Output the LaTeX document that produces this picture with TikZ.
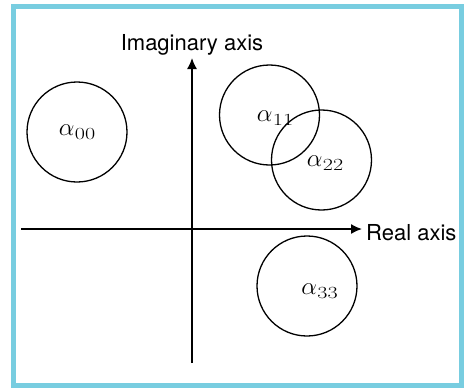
\documentclass[tikz,border=0pt]{standalone}
\usepackage{fontspec}
\usepackage{graphicx}
\newfontfamily\axisfont{TeX Gyre Heros}
\usetikzlibrary{arrows.meta}
\definecolor{frameblue}{RGB}{120,205,224}
\newcommand\alab[1]{{\fontsize{24}{24}\selectfont$\alpha$}\kern0.5pt\raisebox{-4pt}{\fontsize{17}{17}\selectfont\scalebox{1.3}[1]{#1}}}
\tikzset{
  ring/.style={circle, draw, line width=1.3pt, minimum size=100pt, inner sep=0pt},
  axisline/.style={line width=1.5pt, -{Latex[length=11pt,width=10pt]}},
  axislab/.style={inner sep=0pt, font=\axisfont\fontsize{22}{26}\selectfont},
  lab/.style={inner sep=0pt}
}
\begin{document}
\begin{tikzpicture}[x=1pt,y=-1pt]
\useasboundingbox (0,0) rectangle (464,389);
\fill[white] (0,0) rectangle (464,389);
\draw[frameblue, line width=5pt] (13.5,6.5) rectangle (461.8,385.8);
% axes
\coordinate (xl) at (21,229);
\coordinate (xr) at (362,229);
\coordinate (yb) at (192,363);
\coordinate (yt) at (192,58);
\draw[axisline] (xl) -- (xr);
\draw[axisline] (yb) -- (yt);
\node[axislab, anchor=base] (ilab) at (192,50) {Imaginary axis};
\node[axislab, anchor=base west] (rlab) at (366,240) {Real axis};
% circles
\node[ring] (c00) at (77,132) {};
\node[ring] (c11) at (269.5,115) {};
\node[ring] (c22) at (321.5,160) {};
\node[ring] (c33) at (307,286) {};
% labels
\node[lab] (l00) at (77,132) {\alab{00}};
\node[lab] (l11) at (275,118) {\alab{11}};
\node[lab] (l22) at (325,163) {\alab{22}};
\node[lab] (l33) at (319.5,291) {\alab{33}};
\end{tikzpicture}
\end{document}
